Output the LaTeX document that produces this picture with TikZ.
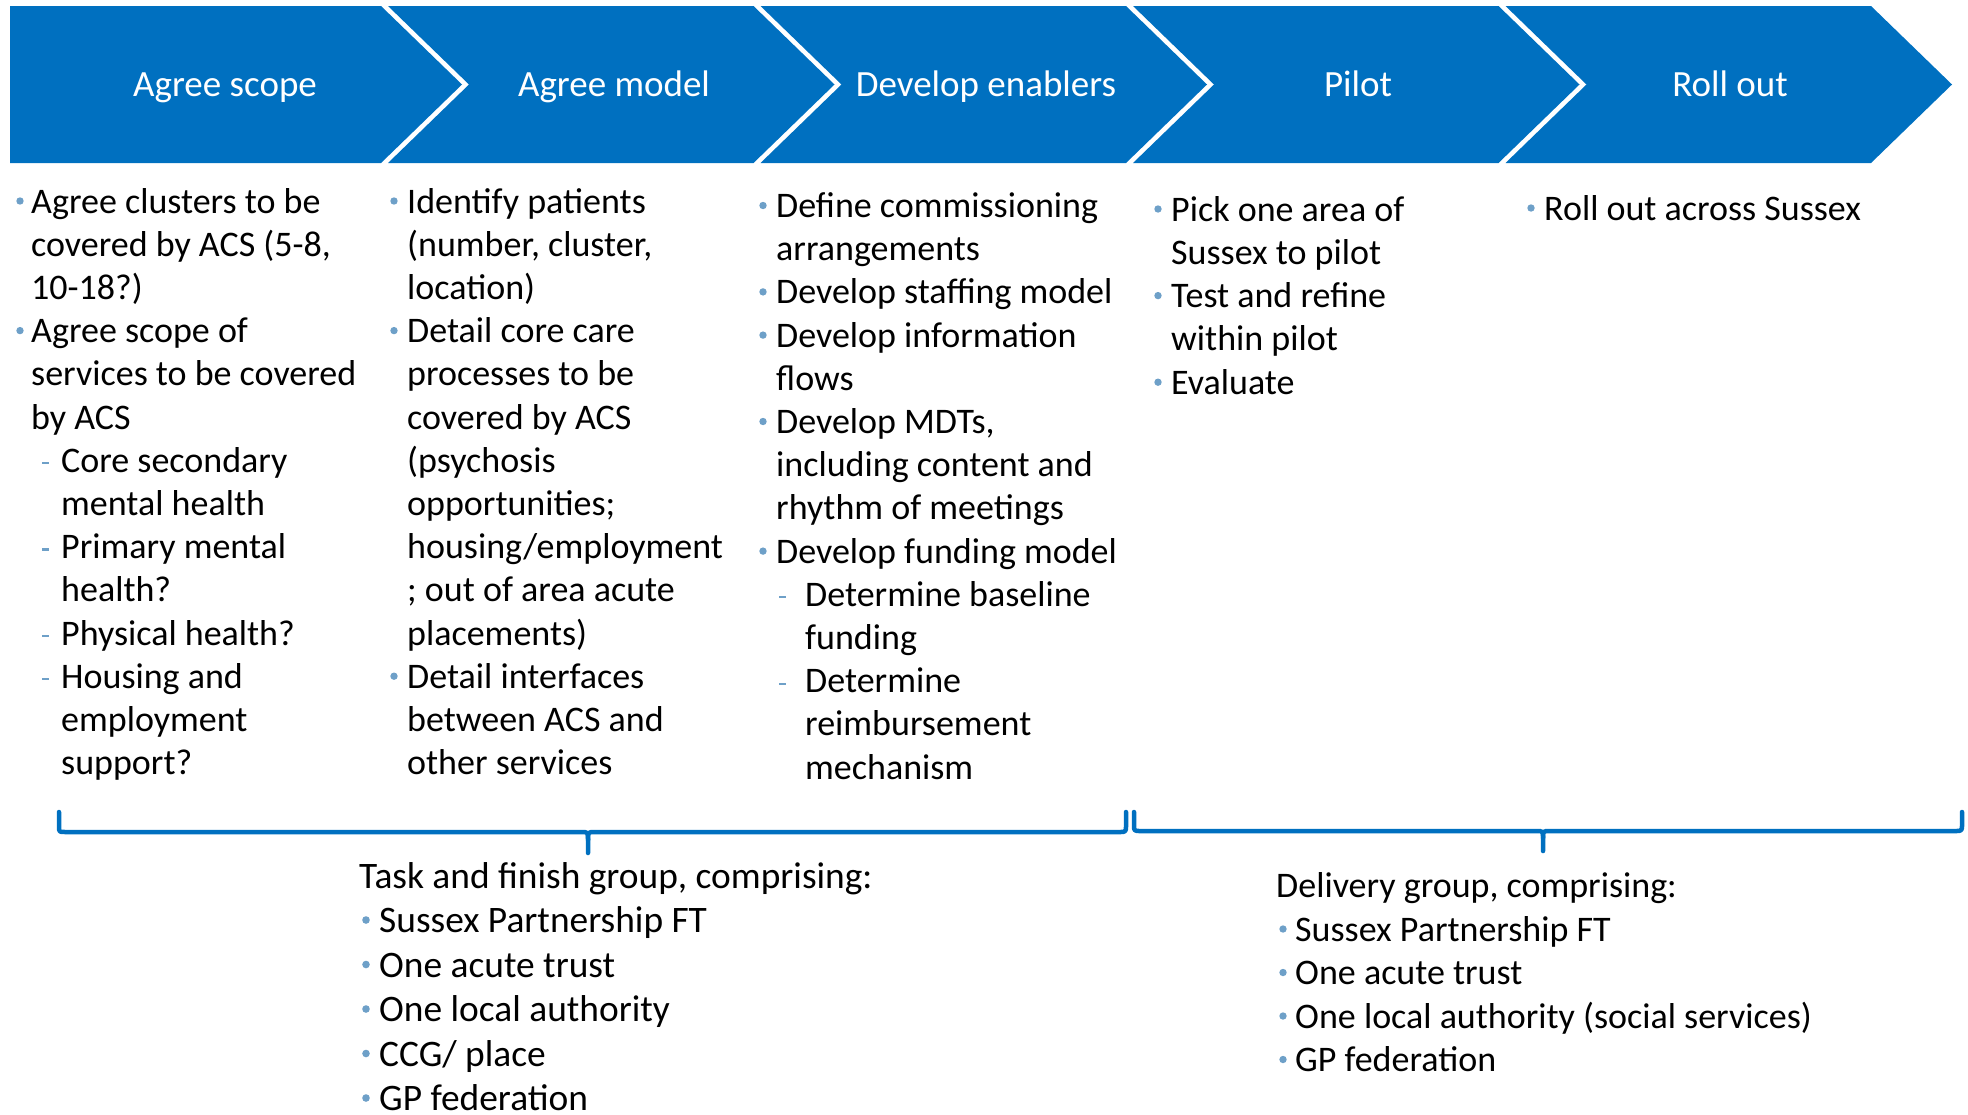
\documentclass[tikz,border=0pt]{standalone}
\usepackage{fontspec}
\setmainfont{Carlito}
\definecolor{chev}{RGB}{0,112,192}
\definecolor{bulc}{RGB}{110,160,200}
\tikzset{
  txt/.style={anchor=base west,inner sep=0pt,font=\fontsize{36}{43}\selectfont,text=black},
  txtb/.style={anchor=base west,inner sep=0pt,font=\fontsize{37.4}{45}\selectfont,text=black},
  head/.style={anchor=base,inner sep=0pt,font=\fontsize{37}{43}\selectfont,text=white},
  brace/.style={draw=chev,line width=4.5pt,line cap=round,line join=round},
  chevfill/.style={fill=chev}
}
\newcommand\BL[5]{\fill[bulc] (#2,#4-12) circle[radius=3.7pt]; \node[txt] (#1) at (#3,#4) {#5};}
\newcommand\DL[5]{\draw[bulc,line width=2.3pt] (#2,#4-9) -- ++(7,0); \node[txt] (#1) at (#3,#4) {#5};}
\newcommand\TL[4]{\node[txt] (#1) at (#2,#3) {#4};}
\newcommand\BLb[5]{\fill[bulc] (#2,#4-12.5) circle[radius=3.8pt]; \node[txtb] (#1) at (#3,#4) {#5};}
\begin{document}
\begin{tikzpicture}[x=1pt,y=-1pt]
\useasboundingbox (0,0) rectangle (1968,1114);
% chevrons
\fill[chevfill] (10,6) -- (381,6) -- (462,84.5) -- (381,163) -- (10,163) -- cycle;
\fill[chevfill] (388,6) -- (753.5,6) -- (834.5,84.5) -- (753.5,163) -- (388,163) -- (469,84.5) -- cycle;
\fill[chevfill] (760.5,6) -- (1126,6) -- (1207,84.5) -- (1126,163) -- (760.5,163) -- (841.5,84.5) -- cycle;
\fill[chevfill] (1133,6) -- (1498.5,6) -- (1579.5,84.5) -- (1498.5,163) -- (1133,163) -- (1214,84.5) -- cycle;
\fill[chevfill] (1505.5,6) -- (1871,6) -- (1952,84.5) -- (1871,163) -- (1505.5,163) -- (1586.5,84.5) -- cycle;
\node[head] (h1) at (225,96) {Agree scope};
\node[head] (h2) at (614,96) {Agree model};
\node[head] (h3) at (986,96) {Develop enablers};
\node[head] (h4) at (1358,96) {Pilot};
\node[head] (h5) at (1730,96) {Roll out};
% column 1
\BL{a1}{20}{31}{213}{Agree clusters to be}
\TL{a2}{31}{256.2}{covered by ACS (5-8,}
\TL{a3}{31}{299.4}{10-18?)}
\BL{a4}{20}{31}{342.6}{Agree scope of}
\TL{a5}{31}{385.8}{services to be covered}
\TL{a6}{31}{429}{by ACS}
\DL{a7}{42}{61}{472.2}{Core secondary}
\TL{a8}{61}{515.4}{mental health}
\DL{a9}{42}{61}{558.6}{Primary mental}
\TL{a10}{61}{601.8}{health?}
\DL{a11}{42}{61}{645}{Physical health?}
\DL{a12}{42}{61}{688.2}{Housing and}
\TL{a13}{61}{731.4}{employment}
\TL{a14}{61}{774.6}{support?}
% column 2
\BL{b1}{394}{407}{213}{Identify patients}
\TL{b2}{407}{256.2}{(number, cluster,}
\TL{b3}{407}{299.4}{location)}
\BL{b4}{394}{407}{342.6}{Detail core care}
\TL{b5}{407}{385.8}{processes to be}
\TL{b6}{407}{429}{covered by ACS}
\TL{b7}{407}{472.2}{(psychosis}
\TL{b8}{407}{515.4}{opportunities;}
\TL{b9}{407}{558.6}{housing/employment}
\TL{b10}{407}{601.8}{; out of area acute}
\TL{b11}{407}{645}{placements)}
\BL{b12}{394}{407}{688.2}{Detail interfaces}
\TL{b13}{407}{731.4}{between ACS and}
\TL{b14}{407}{774.6}{other services}
% column 3
\BL{c1}{763}{776}{217.5}{Define commissioning}
\TL{c2}{776}{260.7}{arrangements}
\BL{c3}{763}{776}{303.9}{Develop staffing model}
\BL{c4}{763}{776}{347.1}{Develop information}
\TL{c5}{776}{390.3}{flows}
\BL{c6}{763}{776}{433.5}{Develop MDTs,}
\TL{c7}{776}{476.7}{including content and}
\TL{c8}{776}{519.9}{rhythm of meetings}
\BL{c9}{763}{776}{563.1}{Develop funding model}
\DL{c10}{779}{805}{606.3}{Determine baseline}
\TL{c11}{805}{649.5}{funding}
\DL{c12}{779}{805}{692.7}{Determine}
\TL{c13}{805}{735.9}{reimbursement}
\TL{c14}{805}{779.1}{mechanism}
% column 4
\BL{d1}{1158}{1171}{221}{Pick one area of}
\TL{d2}{1171}{264.3}{Sussex to pilot}
\BL{d3}{1158}{1171}{307.6}{Test and refine}
\TL{d4}{1171}{350.9}{within pilot}
\BL{d5}{1158}{1171}{394.2}{Evaluate}
% column 5
\BL{e1}{1531}{1544}{220}{Roll out across Sussex}
% braces
\draw[brace] (59,812) -- (59,826) .. controls (59,832) .. (65,832) -- (581,832) .. controls (588,832) .. (588,840) -- (588,853);
\draw[brace] (588,840) .. controls (588,832) .. (595,832) -- (1119,832) .. controls (1126,832) .. (1126,825) -- (1126,812);
\draw[brace] (1134,812) -- (1134,825) .. controls (1134,831) .. (1141,831) -- (1536,831) .. controls (1543,831) .. (1543,838) -- (1543,851);
\draw[brace] (1543,838) .. controls (1543,831) .. (1550,831) -- (1955,831) .. controls (1962,831) .. (1962,824) -- (1962,812);
% bottom left group
\node[txtb] (f0) at (359,888) {Task and finish group, comprising:};
\BLb{f1}{366}{379}{932.5}{Sussex Partnership FT}
\BLb{f2}{366}{379}{977}{One acute trust}
\BLb{f3}{366}{379}{1021.5}{One local authority}
\BLb{f4}{366}{379}{1066}{CCG/ place}
\BLb{f5}{366}{379}{1110.5}{GP federation}
% bottom right group
\TL{g0}{1276}{897}{Delivery group, comprising:}
\BL{g1}{1283}{1295}{941}{Sussex Partnership FT}
\BL{g2}{1283}{1295}{984.5}{One acute trust}
\BL{g3}{1283}{1295}{1028}{One local authority (social services)}
\BL{g4}{1283}{1295}{1071.5}{GP federation}
\end{tikzpicture}
\end{document}
